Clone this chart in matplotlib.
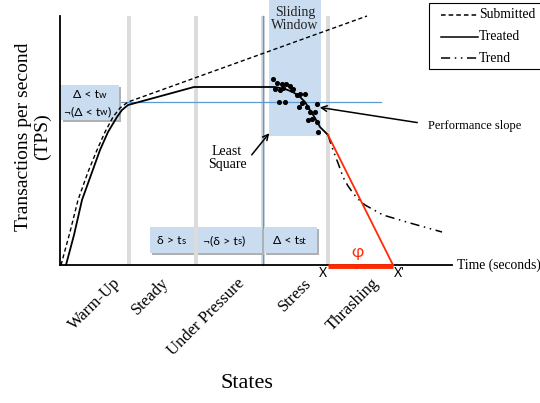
import numpy as np
import matplotlib.pyplot as plt
from matplotlib.patches import Rectangle

# Schematic drawn in picture coordinates (x to the right, y downwards)
submitted_x = [61, 70, 78, 88, 97, 105, 113, 120, 128, 367]
submitted_y = [265, 232, 200, 172, 150, 132, 117, 108, 102, 16]

treated_x = [66, 74, 82, 91, 100, 108, 117, 122, 128, 194, 275, 285, 293, 300, 305, 310, 315, 320, 328]
treated_y = [265, 235, 200, 175, 150, 132, 117, 110, 105, 87, 87, 89, 92, 97, 102, 110, 118, 127, 135]

trend_x = [328, 333, 338, 343, 348, 353, 358, 365, 383, 410, 442]
trend_y = [135, 150, 163, 177, 186, 193, 199, 205, 215, 223, 232]

slope_x = [328, 393]
slope_y = [135, 265]

dots_x = [273, 277, 282, 286, 290, 275, 280, 283, 292, 297, 300, 305, 279, 285, 302,
          307, 317, 310, 315, 308, 312, 317, 318, 293, 299]
dots_y = [79, 83, 84, 84, 86, 89, 90, 88, 90, 95, 94, 94, 102, 102, 103,
          107, 104, 112, 112, 120, 119, 122, 132, 89, 107]

band_x = [129, 196, 263, 328]
state_labels = ['Warm-Up', 'Steady', 'Under Pressure', 'Stress', 'Thrashing']
state_label_x = [113, 161, 237, 303, 371]

serif = 'Liberation Serif'
sans = 'Lato'
box_blue = '#c9dcf0'
line_blue = '#5b9bd5'

fig = plt.figure(figsize=(5.4, 4.03), dpi=100)
ax = fig.add_axes([0, 0, 1, 1])
ax.set_xlim(0, 540)
ax.set_ylim(403, 0)
ax.axis('off')

# sliding window
ax.add_patch(Rectangle((269, 0), 52, 136, facecolor=box_blue, edgecolor='none', zorder=1))
ax.text(295, 19, 'Sliding\nWindow', family=serif, fontsize=10, ha='center', va='center',
        linespacing=1.0, color='#222222', zorder=3)

# gray state borders
for bx in band_x:
    ax.add_patch(Rectangle((bx - 2, 16), 4, 249, facecolor='#dcdcdc', edgecolor='none', zorder=1))
ax.plot([263, 263], [16, 265], color=line_blue, lw=1, zorder=2)
ax.plot([60, 381], [102, 102], color=line_blue, lw=0.9, zorder=2)


def cond_box(x0, y0, w, h):
    ax.add_patch(Rectangle((x0 + 2, y0 + 2), w, h, facecolor='#b0b0b0', edgecolor='none', zorder=2))
    ax.add_patch(Rectangle((x0, y0), w, h, facecolor=box_blue, edgecolor='none', zorder=2.5))


def cond_text(x, y, main, sub, tail=''):
    # condition text with a smaller threshold index, written left to right from x
    t = ax.text(x, y, main, family=sans, fontsize=8.8, ha='left', va='baseline', zorder=3)
    s = ax.annotate(sub, xy=(1, 0), xycoords=t, family=sans, fontsize=6.8, ha='left',
                    va='bottom', zorder=3)
    if tail:
        ax.annotate(tail, xy=(1, 0), xycoords=s, family=sans, fontsize=8.8, ha='left',
                    va='bottom', zorder=3)


cond_box(61, 85, 58, 35)
cond_text(73, 98, 'Δ < t', 'w')
cond_text(64, 115, '¬(Δ < t', 'w', ')')

cond_box(150, 227, 112, 26)
ax.plot([196, 196], [227, 253], color='#dcdcdc', lw=3, zorder=2.6)
cond_text(157, 244, 'δ > t', 's')
cond_text(203, 244, '¬(δ > t', 's', ')')
cond_box(264, 227, 53, 26)
cond_text(273, 244, 'Δ < t', 'st')

# axes
ax.plot([60, 60], [16, 265], color='black', lw=1.3, zorder=4)
ax.plot([60, 452], [265, 265], color='black', lw=1.3, zorder=4)
ax.text(457, 265, 'Time (seconds)', family=serif, fontsize=9.8, ha='left', va='center')

# curves
ax.plot(submitted_x, submitted_y, color='black', lw=1, dashes=(3, 2), zorder=5)
ax.plot(treated_x, treated_y, color='black', lw=1.3, zorder=5)
ax.plot(trend_x, trend_y, color='black', lw=1.1, dashes=(6, 3, 1, 3, 1, 3), zorder=5)
ax.plot(slope_x, slope_y, color='#ff2a00', lw=1.3, zorder=6)
ax.plot([328, 393], [266, 266], color='#ff2a00', lw=3.5, solid_capstyle='butt', zorder=6)
ax.scatter(dots_x, dots_y, s=7, color='black', zorder=6)

ax.text(323, 273, 'X', family=sans, fontsize=9, ha='center', va='center')
ax.text(399, 273, "X'", family=sans, fontsize=9, ha='center', va='center')
ax.text(358, 252, 'φ', family=sans, fontsize=12, color='#ff2a00', ha='center', va='center')

# annotations
ax.annotate('', xy=(317, 107), xytext=(420, 123),
            arrowprops=dict(arrowstyle='->', color='black', lw=1.1), zorder=7)
ax.text(428, 126, 'Performance slope', family=serif, fontsize=9, ha='left', va='center')
ax.annotate('', xy=(271, 131), xytext=(250, 157),
            arrowprops=dict(arrowstyle='->', color='black', lw=1.1), zorder=7)
ax.text(227, 158, 'Least\nSquare', family=serif, fontsize=10, ha='center', va='center', linespacing=1.05)

# state labels
for lx, lab in zip(state_label_x, state_labels):
    ax.text(lx, 275, lab, family=serif, fontsize=12, rotation=45, ha='right', va='top',
            rotation_mode='anchor')

ax.text(247, 383, 'States', family=serif, fontsize=16, ha='center', va='center')
ax.text(33, 137, 'Transactions per second\n(TPS)', family=serif, fontsize=14, rotation=90,
        ha='center', va='center', linespacing=1.1)

# legend
ax.add_patch(Rectangle((429, 3), 112, 66, facecolor='white', edgecolor='black', lw=0.8, zorder=8))
leg_y = [15, 37, 58]
leg_names = ['Submitted', 'Treated', 'Trend']
leg_dash = [(3, 2), None, (6, 3, 1, 3, 1, 3)]
for ly, nm, ds in zip(leg_y, leg_names, leg_dash):
    if ds is None:
        ax.plot([441, 478], [ly, ly], color='black', lw=1.1, zorder=9)
    else:
        ax.plot([441, 478], [ly, ly], color='black', lw=1.1, dashes=ds, zorder=9)
    ax.text(479, ly, nm, family=serif, fontsize=9.8, ha='left', va='center', zorder=9)

fig.savefig('out.png', dpi=100)
